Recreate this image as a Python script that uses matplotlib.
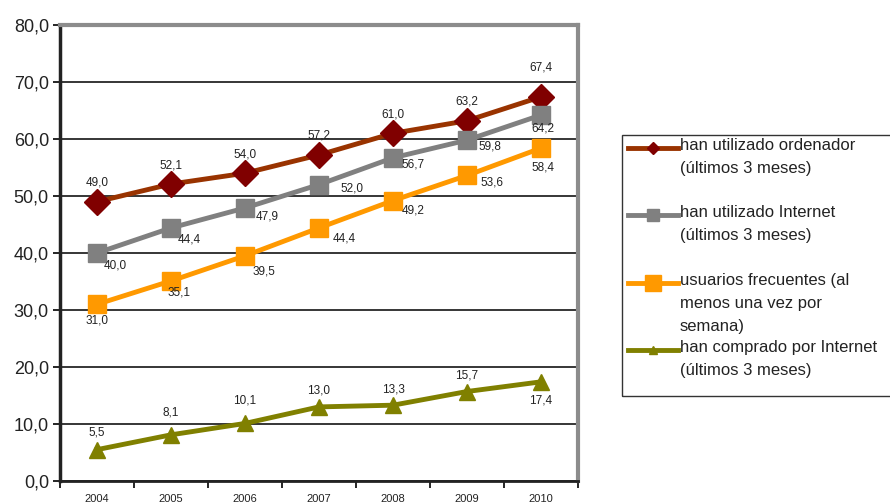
import matplotlib.pyplot as plt
from matplotlib.lines import Line2D
from matplotlib.patches import Rectangle

plt.rcParams['font.family'] = ['Liberation Sans', 'DejaVu Sans']

years = ['2004', '2005', '2006', '2007', '2008', '2009', '2010']
ordenador = [49.0, 52.1, 54.0, 57.2, 61.0, 63.2, 67.4]
internet = [40.0, 44.4, 47.9, 52.0, 56.7, 59.8, 64.2]
frecuentes = [31.0, 35.1, 39.5, 44.4, 49.2, 53.6, 58.4]
comprado = [5.5, 8.1, 10.1, 13.0, 13.3, 15.7, 17.4]

legend_labels = [
    'han utilizado ordenador\n(últimos 3 meses)',
    'han utilizado Internet\n(últimos 3 meses)',
    'usuarios frecuentes (al\nmenos una vez por\nsemana)',
    'han comprado por Internet\n(últimos 3 meses)',
]

W, H = 890, 504
fig = plt.figure(figsize=(W / 100, H / 100), dpi=100)
ax = fig.add_axes([60 / W, 1 - 481 / H, 518 / W, 456 / H])

x = list(range(len(years)))

series = [
    # values, line colour, marker, marker colour, marker size, legend marker size, label offsets (px)
    (ordenador, '#993300', 'D', '#800000', 13, 6,
     [(0, 19), (0, 19), (0, 19), (0, 19), (0, 19), (0, 19), (0, 29)]),
    (internet, '#808080', 's', '#808080', 13, 8,
     [(18, -13), (18, -12), (22, -9), (33, -4), (20, -7), (23, -6), (2, -13)]),
    (frecuentes, '#FF9900', 's', '#FF9900', 13, 12,
     [(0, -16), (8, -12), (19, -16), (25, -11), (20, -10), (25, -7), (2, -19)]),
    (comprado, '#808000', '^', '#808000', 11, 6,
     [(0, 17), (0, 22), (0, 23), (0, 16), (0, 16), (0, 16), (0, -19)]),
]

handles = []
for vals, lc, mk, mc, ms, lms, offs in series:
    ax.plot(x, vals, color=lc, lw=3.5, marker=mk, ms=ms,
            mfc=mc, mec=mc, zorder=3, clip_on=False)
    handles.append((lc, mk, mc, lms))
    for xi, v, (dx, dy) in zip(x, vals, offs):
        ax.annotate(f'{v:.1f}'.replace('.', ','), (xi, v),
                    xytext=(dx, dy), textcoords='offset pixels',
                    ha='center', va='center', fontsize=8.5, color='#222222')

ax.set_xlim(-0.5, len(years) - 0.5)
ax.set_ylim(0, 80)
ax.set_yticks(range(0, 81, 10))
ax.set_yticklabels([f'{v:.1f}'.replace('.', ',') for v in range(0, 81, 10)],
                   fontsize=13, color='#222222')
ax.set_xticks(x)
ax.set_xticklabels(years, fontsize=8, color='#222222')
ax.set_xticks([i - 0.5 for i in range(len(years) + 1)], minor=True)
ax.tick_params(axis='x', which='major', length=0, pad=9)
ax.tick_params(axis='x', which='minor', length=5, width=1.2, direction='out')
ax.tick_params(axis='y', length=5, width=1.2, direction='out', pad=3)

ax.yaxis.grid(True, color='black', lw=1.1)
ax.set_axisbelow(True)
ax.spines['left'].set_color('#222222')
ax.spines['left'].set_linewidth(2.5)
ax.spines['bottom'].set_color('#222222')
ax.spines['bottom'].set_linewidth(2)
for s in ('top', 'right'):
    ax.spines[s].set_color('#8c8c8c')
    ax.spines[s].set_linewidth(3)

# legend box, drawn by hand so the handle sits on the first text line
fig.add_artist(Rectangle((622 / W, 1 - 396 / H), 280 / W, 261 / H,
                         transform=fig.transFigure, fill=False,
                         edgecolor='#333333', lw=1))
rows = [148, 215, 283, 350]
for (lc, mk, mc, lms), label, ry in zip(handles, legend_labels, rows):
    yy = 1 - ry / H
    fig.add_artist(Line2D([628 / W, 678 / W], [yy, yy], transform=fig.transFigure,
                          color=lc, lw=3.5))
    fig.add_artist(Line2D([653 / W], [yy], transform=fig.transFigure,
                          marker=mk, ms=lms, color=mc, lw=0))
    fig.text(680 / W, yy + 10 / H, label, fontsize=12, va='top', ha='left',
             linespacing=1.65, color='#222222')

fig.savefig('out.png', dpi=100)
